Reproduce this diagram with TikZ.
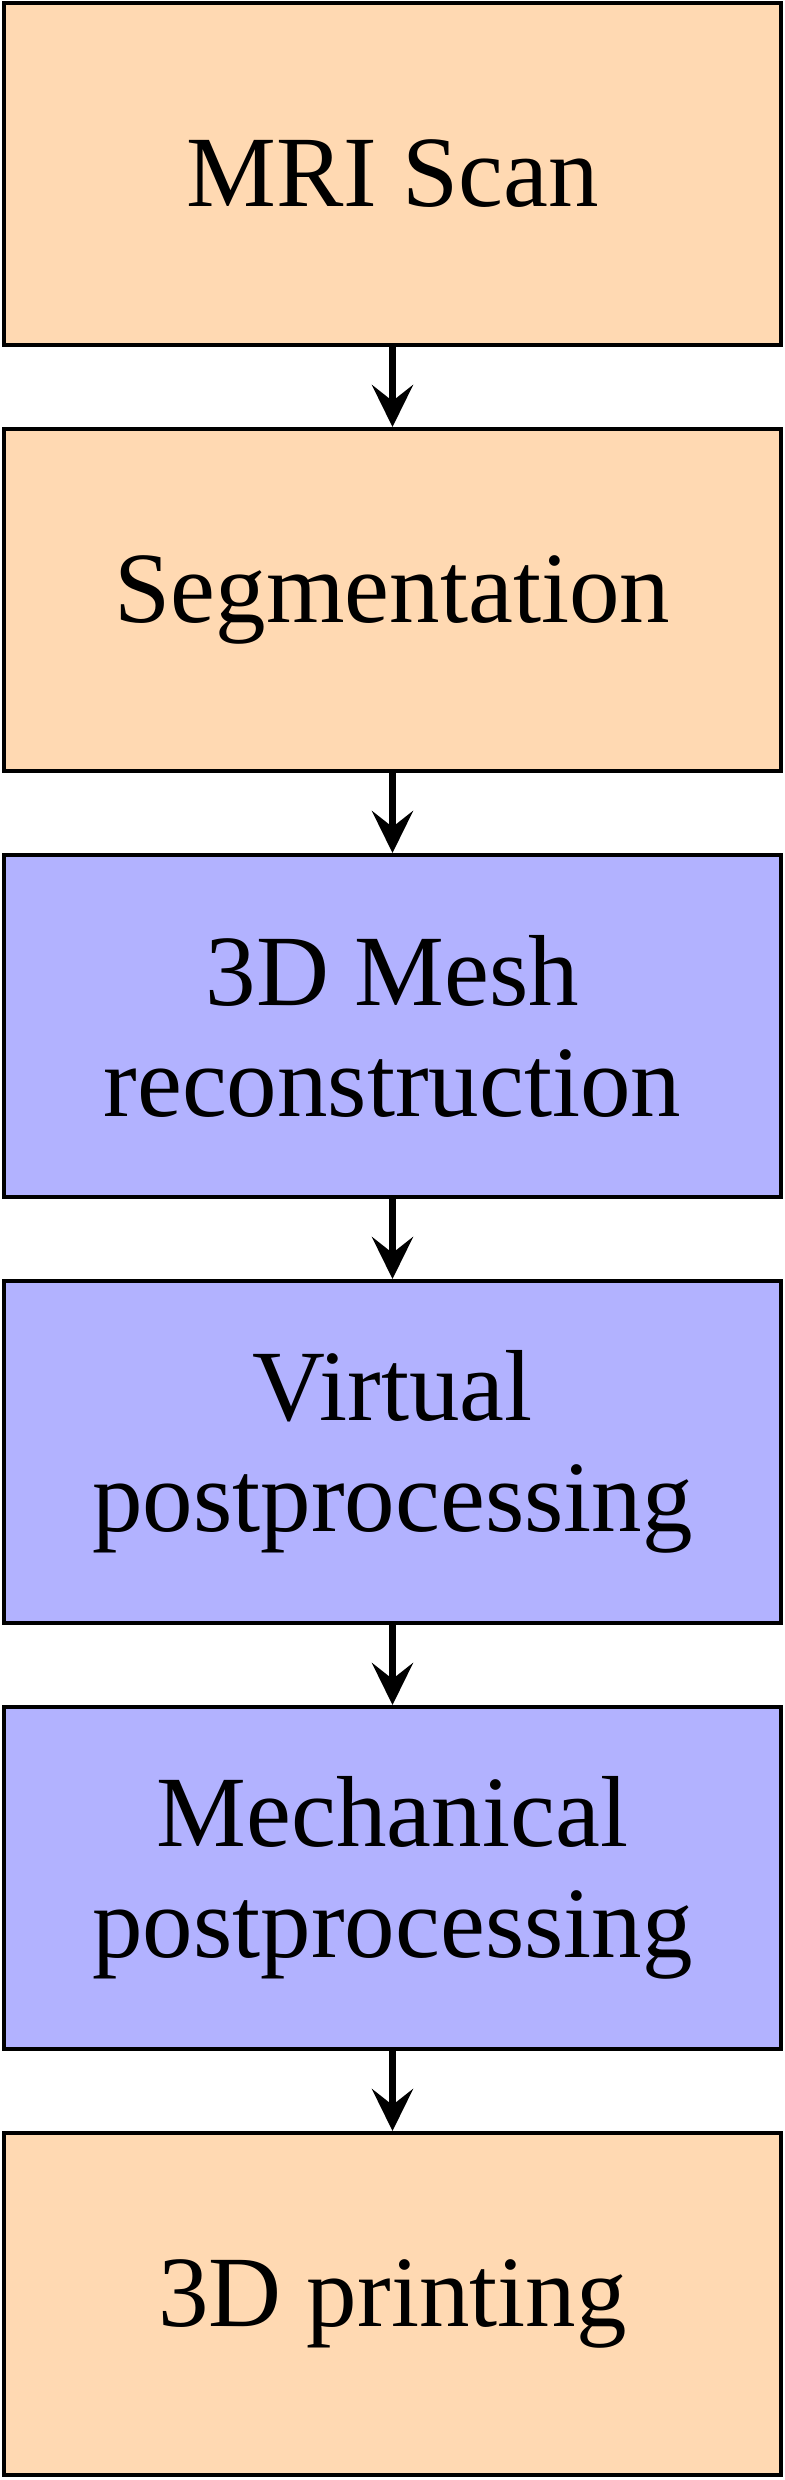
\documentclass[tikz,border=0pt]{standalone}
\usepackage{fontspec}
\setmainfont{Liberation Serif}
\usetikzlibrary{arrows.meta}
\definecolor{peach}{rgb}{1,0.85,0.7}
\definecolor{lav}{rgb}{0.7,0.7,1}
\begin{document}
\begin{tikzpicture}[x=0.1pt,y=-0.1pt,
  stepbox/.style={draw=black,line width=0.4pt,minimum width=77.7pt,minimum height=34.2pt,inner sep=0pt,align=center,font=\fontsize{10.1}{11.1}\selectfont},
  warm/.style={stepbox,fill=peach},
  cool/.style={stepbox,fill=lav},
  flow/.style={line width=0.7pt,-{Stealth[length=4.2pt,width=4.1pt,inset=1.6pt]}}]
\useasboundingbox (0,0) rectangle (785,2480);
\node[warm] (a) at (392.5,174) {MRI Scan};
\node[warm] (b) at (392.5,600) {Segmentation};
\node[cool] (c) at (392.5,1026) {3D Mesh\\reconstruction};
\node[cool] (d) at (392.5,1452) {Virtual\\postprocessing};
\node[cool] (e) at (392.5,1878) {Mechanical\\postprocessing};
\node[warm] (f) at (392.5,2304) {3D printing};
\draw[flow] (a.south) -- (b.north);
\draw[flow] (b.south) -- (c.north);
\draw[flow] (c.south) -- (d.north);
\draw[flow] (d.south) -- (e.north);
\draw[flow] (e.south) -- (f.north);
\end{tikzpicture}
\end{document}
